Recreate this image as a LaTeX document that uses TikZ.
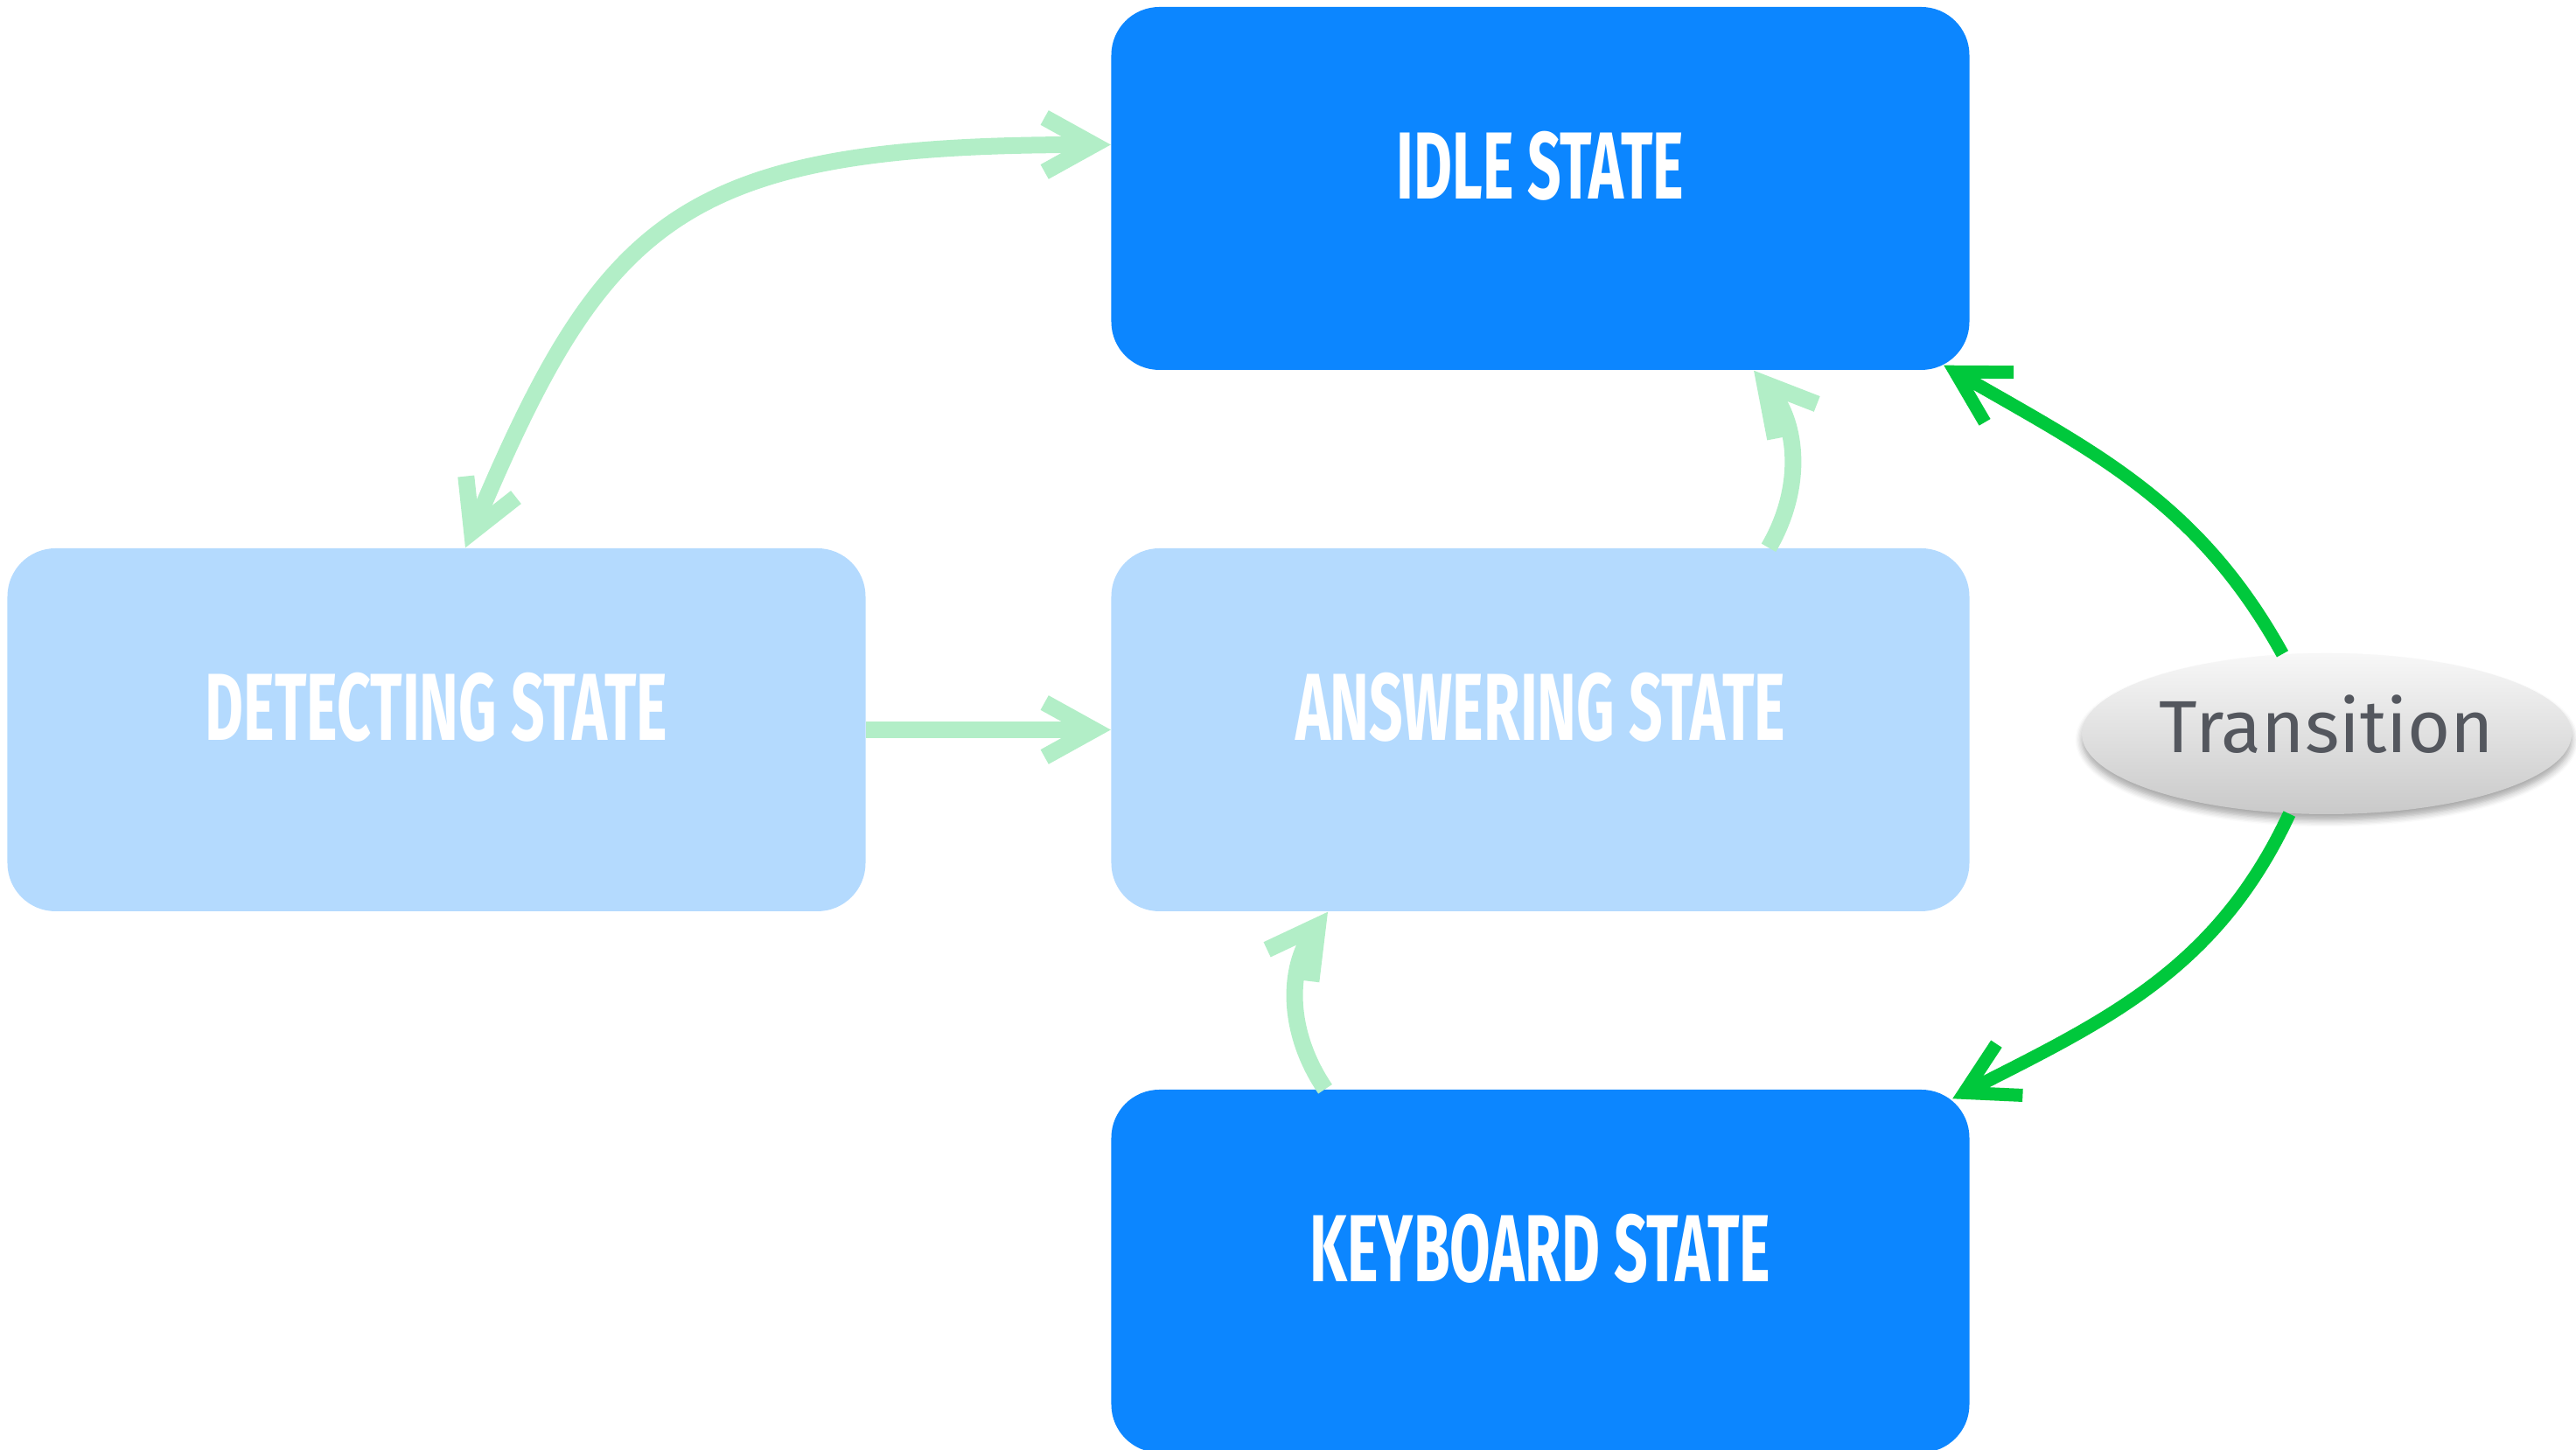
\documentclass[tikz,border=0pt]{standalone}
\usepackage{fontspec}
\setmainfont{Fira Sans}
\newfontfamily\statefont[FakeStretch=0.62]{Fira Sans}
\usetikzlibrary{calc,arrows.meta,shapes.geometric,shadows.blur}

\definecolor{idleblue}{RGB}{12,134,255}
\definecolor{paleblue}{RGB}{180,218,254}
\definecolor{palegreen}{RGB}{178,238,199}
\definecolor{trgreen}{RGB}{0,200,60}
\definecolor{trgray}{RGB}{84,87,94}

\tikzset{
    statebox/.style={rectangle, rounded corners=0.55cm, minimum width=9.81cm, minimum height=4.15cm,
        inner sep=0pt, text=white, font=\statefont\bfseries\fontsize{31}{36}\selectfont,
        text height=0.76cm, text depth=0.52cm},
    darkstate/.style={statebox, fill=idleblue},
    lightstate/.style={statebox, fill=paleblue},
    transnode/.style={ellipse, minimum width=5.60cm, minimum height=1.84cm, inner sep=0pt,
        top color=gray!6, bottom color=gray!42,
        blur shadow={shadow xshift=0pt, shadow yshift=-0.07cm, shadow blur steps=6, shadow opacity=35},
        text=trgray, font=\fontsize{24}{30}\selectfont, text depth=0.22cm},
    barb/.tip={Straight Barb[length=0.56cm, width=0.62cm]},
    softarrow/.style={draw=palegreen, line width=0.19cm, arrows={-barb}},
    hardarrow/.style={draw=trgreen, line width=0.15cm, arrows={-Straight Barb[length=0.58cm, width=0.66cm]}},
}

\begin{document}
\begin{tikzpicture}
    \useasboundingbox (0,0) rectangle (29.45,16.58);

    \matrix (m) [column sep=2.81cm, row sep=2.04cm, inner sep=0pt] at (11.30,8.235) {
        & \node[darkstate](idle){IDLE STATE}; \\
        \node[lightstate](detect){DETECTING STATE}; & \node[lightstate](answer){ANSWERING STATE}; \\
        & \node[darkstate](keyboard){KEYBOARD STATE}; \\
    };

    \node[transnode] (trans) at (26.60,8.19) {Transition};

    \draw[softarrow, arrows={barb-barb}]($(idle.west)+(0,0.5)$)
        .. controls +(-4.9,0) and +(1.6,3.8) .. ($(detect.north)+(0.33,0)$);
    \draw[softarrow](detect.east)--(answer.west);
    \draw[softarrow]($(answer.north)+(2.61,0)$)to[bend right=35]($(idle.south)+(2.44,0)$);
    \draw[softarrow]($(keyboard.north)+(-2.46,0)$)to[bend left=35]($(answer.south)+(-2.43,0)$);

    \draw[hardarrow](trans.119)to[out=119, in=-30]($(idle.south east)+(-0.30,0.06)$);
    \draw[hardarrow](trans.-115)to[out=-115, in=27]($(keyboard.north east)+(-0.20,-0.11)$);

\end{tikzpicture}
\end{document}
